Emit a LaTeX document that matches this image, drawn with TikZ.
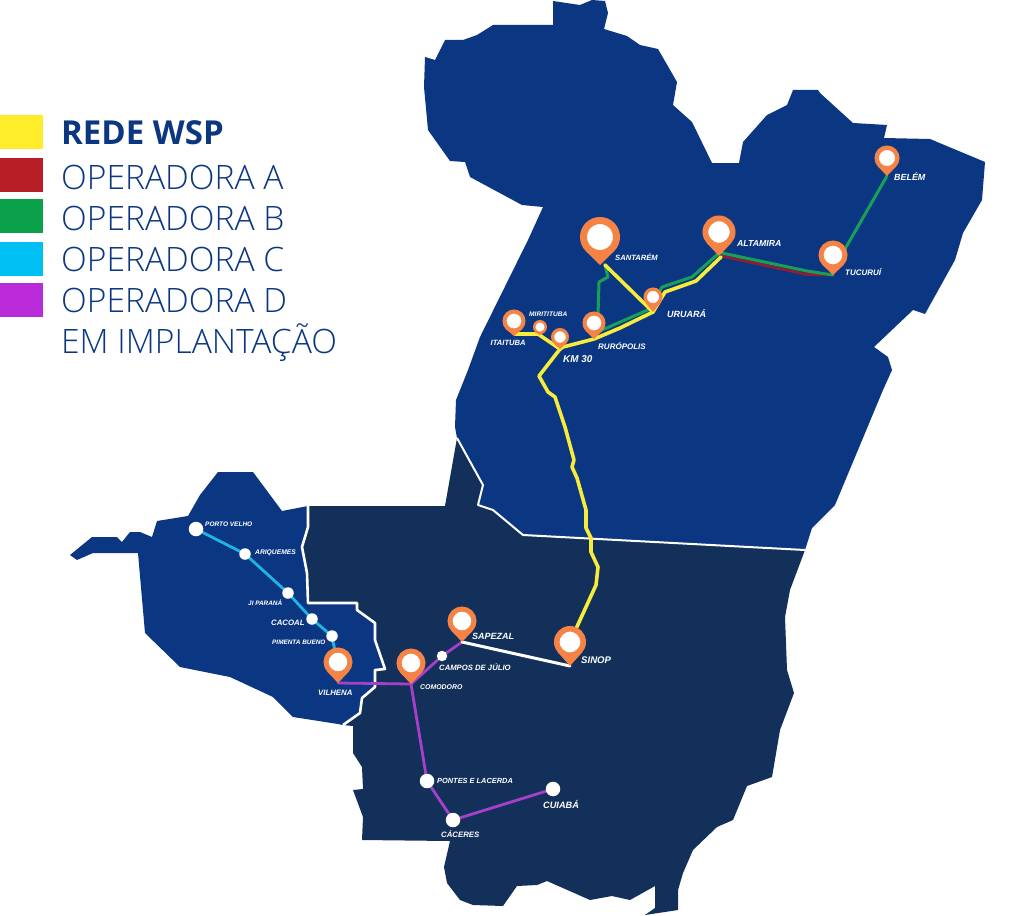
\documentclass[tikz,border=0pt]{standalone}
\usepackage{fontspec}
\setmainfont{Liberation Sans}
\newfontfamily\legendfont[BoldFont={Open Sans Bold}]{Open Sans Light}
\definecolor{mapblue}{HTML}{0B3782}
\definecolor{mapdark}{HTML}{12305A}
\definecolor{wspyellow}{HTML}{FFED2B}
\definecolor{opred}{HTML}{B81E25}
\definecolor{opgreen}{HTML}{0BA14B}
\definecolor{opcyan}{HTML}{00BFF3}
\definecolor{oppurple}{HTML}{B92BD9}
\definecolor{lineyellow}{HTML}{F7EC3B}
\definecolor{linegreen}{HTML}{16A05A}
\definecolor{linered}{HTML}{8E1F33}
\definecolor{linecyan}{HTML}{1FB5E3}
\definecolor{linepurple}{HTML}{A83FCB}
\definecolor{pinorange}{HTML}{F58345}
\pgfdeclarelayer{maplayer}
\pgfdeclarelayer{linelayer}
\pgfsetlayers{maplayer,linelayer,main}
\tikzset{
  region/.style={line join=round},
  border/.style={draw=white,line width=2.6pt,line join=round},
  conn/.style={line width=#1,line join=round,line cap=round},
  conn/.default=2.6pt,
  dot/.style={circle,fill=white,inner sep=0pt,minimum size=#1},
  swatch/.style={inner sep=0pt,outer sep=0pt,anchor=north west,minimum width=43pt},
  legendtext/.style={anchor=base west,inner sep=0pt,text=mapblue,font=\legendfont\fontsize{33.6}{35}\selectfont},
  maplabel/.style={anchor=west,inner sep=0pt,text=white,font=\bfseries\itshape\fontsize{#1}{#1}\selectfont},
}
% \pinmark{name}{cx}{cy}{R}{tip y}
\newcommand{\pinmark}[5]{%
  \coordinate (#1) at (#2,#5);
  \fill[pinorange] (#2,#5) -- (#2-0.71*#4,#3+0.70*#4) -- (#2+0.71*#4,#3+0.70*#4) -- cycle;
  \pgfmathsetmacro{\pinsize}{1.65*#4}
  \pgfmathsetmacro{\pinring}{0.35*#4}
  \node[circle,fill=white,draw=pinorange,line width=\pinring pt,inner sep=0pt,outer sep=0pt,minimum size=\pinsize pt] (#1head) at (#2,#3) {};
}
\begin{document}
\begin{tikzpicture}[x=1pt,y=-1pt]
\useasboundingbox (0,0) rectangle (1024,915);

\begin{pgfonlayer}{maplayer}
% northern region
\fill[mapblue,region] (553,1) -- (580,5) -- (592,0) -- (605,1) -- (608,13) -- (604,29) -- (627,36) -- (640,45) -- (658,49) -- (677,82) -- (673,105) -- (692,122) -- (712,163) -- (739,163) -- (743,142) -- (767,115) -- (787,105) -- (793,90) -- (818,90) -- (820,93) -- (853,123) -- (887,125) -- (884,138) -- (930,139) -- (985,162) -- (982,200) -- (963,233) -- (955,260) -- (925,314) -- (913,310) -- (874,347) -- (888,357) -- (892,370) -- (883,390) -- (835,505) -- (812,528) -- (805,550) -- (523,535) -- (493,510) -- (478,505) -- (483,485) -- (457,438) -- (455,427) -- (456,400) -- (468,370) -- (480,337) -- (528,240) -- (543,207) -- (522,205) -- (470,177) -- (465,162) -- (450,161) -- (428,130) -- (424,87) -- (425,57) -- (435,60) -- (445,40) -- (463,40) -- (477,35) -- (493,25) -- (553,25) -- cycle;
% western region
\fill[mapblue,region] (70,555) -- (92,537) -- (117,537) -- (122,542) -- (130,532) -- (140,532) -- (152,537) -- (157,521) -- (188,516) -- (200,495) -- (218,472) -- (253,472) -- (282,511) -- (308,506) -- (308,527) -- (302,547) -- (307,573) -- (308,603) -- (357,603) -- (357,610) -- (375,623) -- (375,640) -- (385,669) -- (375,670) -- (375,687) -- (362,698) -- (360,713) -- (343,725) -- (338,724) -- (293,717) -- (273,697) -- (230,677) -- (180,667) -- (145,633) -- (138,553) -- (93,553) -- (77,560) -- cycle;
% central region
\fill[mapdark,region] (308,506) -- (445,506) -- (457,438) -- (483,485) -- (478,505) -- (493,510) -- (523,535) -- (805,550) -- (790,590) -- (785,617) -- (787,670) -- (794,693) -- (780,730) -- (772,777) -- (747,786) -- (733,820) -- (717,827) -- (693,850) -- (683,873) -- (678,890) -- (678,910) -- (645,915) -- (655,908) -- (655,886) -- (630,900) -- (612,896) -- (590,900) -- (547,881) -- (537,885) -- (517,886) -- (503,906) -- (473,905) -- (460,900) -- (447,883) -- (444,867) -- (450,841) -- (362,840) -- (363,817) -- (353,790) -- (363,789) -- (362,767) -- (353,753) -- (353,726) -- (343,725) -- (360,713) -- (362,698) -- (375,687) -- (375,670) -- (385,669) -- (375,640) -- (375,623) -- (357,610) -- (357,603) -- (308,603) -- (307,573) -- (302,547) -- (308,527) -- cycle;
% borders between regions
\draw[border,line width=2pt] (457,438) -- (483,485) -- (478,505) -- (493,510) -- (523,535) -- (805,550);
\draw[border] (308,506) -- (308,527) -- (302,547) -- (307,573) -- (308,603) -- (357,603) -- (357,610) -- (375,623) -- (375,640) -- (385,669) -- (375,670) -- (375,687) -- (362,698) -- (360,713) -- (343,725);
\end{pgfonlayer}

% legend
\node[swatch,fill=wspyellow,minimum height=34pt] (swA) at (0,115) {};
\node[swatch,fill=opred,minimum height=34pt] (swB) at (0,158) {};
\node[swatch,fill=opgreen,minimum height=34pt] (swC) at (0,199) {};
\node[swatch,fill=opcyan,minimum height=34pt] (swD) at (0,242) {};
\node[swatch,fill=oppurple,minimum height=34pt] (swE) at (0,283) {};
\node[legendtext,font=\legendfont\bfseries\fontsize{33}{35}\selectfont] (lgA) at (61,144) {REDE WSP};
\node[legendtext] (lgB) at (61,189) {OPERADORA A};
\node[legendtext] (lgC) at (61,230) {OPERADORA B};
\node[legendtext] (lgD) at (61,271) {OPERADORA C};
\node[legendtext] (lgE) at (61,312) {OPERADORA D};
\node[legendtext] (lgF) at (61,353) {EM IMPLANTAÇÃO};

% pins
\pinmark{santarem}{600}{237}{20}{265}
\pinmark{altamira}{719}{232}{16.5}{256}
\pinmark{tucurui}{833}{255}{14.5}{275}
\pinmark{belem}{887}{158}{12.5}{176}
\pinmark{itaituba}{514}{321}{11.5}{336}
\pinmark{miritituba}{540}{327}{7}{335}
\pinmark{kmtrinta}{560}{337}{9}{349}
\pinmark{ruropolis}{594}{323}{11.5}{339}
\pinmark{uruara}{653}{297}{9.5}{312}
\pinmark{vilhena}{338}{662}{14.5}{683}
\pinmark{comodoro}{411}{663}{14.5}{684}
\pinmark{sapezal}{462}{621}{14.5}{642}
\pinmark{sinop}{570}{642}{16}{666}

% plain dots
\node[dot=14.5pt] (portovelho) at (196,529) {};
\node[dot=11.5pt] (ariquemes) at (245,554) {};
\node[dot=11.5pt] (jiparana) at (288,593) {};
\node[dot=11.5pt] (cacoal) at (312,619) {};
\node[dot=11.5pt] (pimenta) at (332,636) {};
\node[dot=10.5pt] (campos) at (442,656) {};
\node[dot=14.5pt] (pontes) at (427,781) {};
\node[dot=14.5pt] (caceres) at (453,820) {};
\node[dot=14.5pt] (cuiaba) at (553,789) {};

\begin{pgfonlayer}{linelayer}
% red
\draw[linered,conn=2.8pt] (altamira) ++(3,0) -- (807,274.5) -- (tucurui);
% green
\draw[linegreen,conn=3pt] (santarem) ++(5,0) -- (608,277) -- (599,282) -- (598,315);
\draw[linegreen,conn=3pt] (ruropolis) ++(8,-9) -- (650,309) -- (662,287) -- (692,277) -- (718,254);
\draw[linegreen,conn=3pt] (altamira) ++(3,-3) -- (807,271) -- (tucurui);
\draw[linegreen,conn=3pt] (tucuruihead.east) ++(0,-6) -- (belem);
% yellow
\draw[lineyellow,conn=3.6pt] (santarem) ++(5,0) -- (uruara);
\draw[lineyellow,conn=3.6pt] (altamira) ++(2,1) -- (696,281) -- (665,292) -- (uruara) -- (620,328) -- (ruropolis) -- (563,347) -- (kmtrinta);
\draw[lineyellow,conn=3.6pt] (itaituba) ++(1,-2) -- (538,334) -- (kmtrinta);
\draw[lineyellow,conn=3.6pt] (kmtrinta) -- (539,376) -- (548,392) -- (555,397) -- (565,427) -- (574,460) -- (572,467) -- (577,478) -- (586,510) -- (586,528) -- (591,538) -- (591,552) -- (598,567) -- (596,585) -- (sinophead);
% cyan
\draw[linecyan,conn=2.8pt] (portovelho) -- (ariquemes) -- (jiparana) -- (cacoal) -- (pimenta) -- (333,642) -- (vilhenahead);
% purple
\draw[linepurple,conn=2.8pt] (vilhena) -- (comodoro) -- (campos) -- (sapezal);
\draw[linepurple,conn=2.8pt] (comodoro) -- (pontes) -- (caceres) -- (cuiaba);
% white
\draw[white,conn=3pt] (sapezal) -- (sinop);
\end{pgfonlayer}

% map labels
\node[maplabel=7.6] (tsantarem) at (615,257) {SANTARÉM};
\node[maplabel=9] (turuara) at (667,314) {URUARÁ};
\node[maplabel=8] (truropolis) at (598,346) {RURÓPOLIS};
\node[maplabel=9.9] (tkm) at (563,359) {KM 30};
\node[maplabel=7.6] (titaituba) at (490.5,343) {ITAITUBA};
\node[maplabel=6.6] (tmiritituba) at (529,314) {MIRITITUBA};
\node[maplabel=8.7] (taltamira) at (737,244) {ALTAMIRA};
\node[maplabel=8] (ttucurui) at (845,272) {TUCURUÍ};
\node[maplabel=8.9] (tbelem) at (894,177) {BELÉM};
\node[maplabel=6.5] (tporto) at (205,524) {PORTO VELHO};
\node[maplabel=6.7] (tariquemes) at (255,553) {ARIQUEMES};
\node[maplabel=6.4] (tji) at (248,603) {JI PARANÁ};
\node[maplabel=7.8] (tcacoal) at (271,623) {CACOAL};
\node[maplabel=6.4] (tpimenta) at (272,642) {PIMENTA BUENO};
\node[maplabel=7.8] (tvilhena) at (318,693) {VILHENA};
\node[maplabel=9] (tsapezal) at (472,636) {SAPEZAL};
\node[maplabel=9.6] (tsinop) at (581,660) {SINOP};
\node[maplabel=7.7] (tcampos) at (439,667) {CAMPOS DE JÚLIO};
\node[maplabel=6.9] (tcomodoro) at (420,687) {COMODORO};
\node[maplabel=7.4] (tpontes) at (437,781) {PONTES E LACERDA};
\node[maplabel=7.8] (tcaceres) at (441,834) {CÁCERES};
\node[maplabel=9.2] (tcuiaba) at (543,804) {CUIABÁ};
\end{tikzpicture}
\end{document}
